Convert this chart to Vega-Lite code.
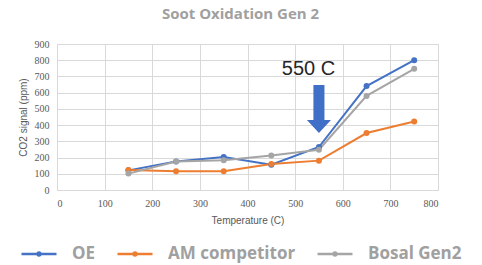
{
  "$schema": "https://vega.github.io/schema/vega-lite/v6.json",
  "autosize": "none",
  "width": 381,
  "height": 146,
  "padding": {"left": 57, "top": 44, "right": 44, "bottom": 75},
  "background": "white",
  "config": {
    "view": {"stroke": "#d9d9d9"},
    "font": "Liberation Sans"
  },
  "title": {
    "text": "Soot Oxidation Gen 2",
    "font": "Open Sans",
    "fontSize": 15,
    "fontWeight": "bold",
    "color": "#a0a0a0",
    "anchor": "middle",
    "dx": -7,
    "offset": 17
  },
  "datasets": {
    "series": [
      {"temp": 150, "signal": 121, "series": "OE"},
      {"temp": 250, "signal": 175, "series": "OE"},
      {"temp": 350, "signal": 204, "series": "OE"},
      {"temp": 450, "signal": 156, "series": "OE"},
      {"temp": 550, "signal": 265, "series": "OE"},
      {"temp": 650, "signal": 641, "series": "OE"},
      {"temp": 750, "signal": 800, "series": "OE"},
      {"temp": 150, "signal": 124, "series": "AM competitor"},
      {"temp": 250, "signal": 115, "series": "AM competitor"},
      {"temp": 350, "signal": 115, "series": "AM competitor"},
      {"temp": 450, "signal": 160, "series": "AM competitor"},
      {"temp": 550, "signal": 181, "series": "AM competitor"},
      {"temp": 650, "signal": 351, "series": "AM competitor"},
      {"temp": 750, "signal": 422, "series": "AM competitor"},
      {"temp": 150, "signal": 101, "series": "Bosal Gen2"},
      {"temp": 250, "signal": 175, "series": "Bosal Gen2"},
      {"temp": 350, "signal": 183, "series": "Bosal Gen2"},
      {"temp": 450, "signal": 212, "series": "Bosal Gen2"},
      {"temp": 550, "signal": 248, "series": "Bosal Gen2"},
      {"temp": 650, "signal": 580, "series": "Bosal Gen2"},
      {"temp": 750, "signal": 747, "series": "Bosal Gen2"}
    ],
    "note": [
      {"temp": 528, "signal": 709, "label": "550 C"}
    ],
    "arrow": [
      {"temp": 550, "signal": 500}
    ]
  },
  "encoding": {
    "x": {
      "field": "temp", "type": "quantitative",
      "scale": {"domain": [0, 800], "nice": false},
      "axis": {
        "title": "Temperature (C)",
        "titleFont": "Liberation Sans", "titleFontSize": 10, "titleFontWeight": "normal", "titleColor": "#595959",
        "titlePadding": 7,
        "values": [0, 100, 200, 300, 400, 500, 600, 700, 800],
        "labelOverlap": false,
        "labelFont": "Liberation Serif", "labelFontSize": 10, "labelColor": "#595959",
        "labelPadding": 8,
        "domain": false, "ticks": false, "gridColor": "#d9d9d9"
      }
    },
    "y": {
      "field": "signal", "type": "quantitative",
      "scale": {"domain": [0, 900], "nice": false},
      "axis": {
        "title": "CO2 signal (ppm)",
        "titleFont": "Liberation Sans", "titleFontSize": 10, "titleFontWeight": "normal", "titleColor": "#595959",
        "titlePadding": 6,
        "values": [0, 100, 200, 300, 400, 500, 600, 700, 800, 900],
        "labelOverlap": false,
        "labelFont": "Liberation Serif", "labelFontSize": 10, "labelColor": "#595959",
        "labelPadding": 8,
        "domain": false, "ticks": false, "gridColor": "#d9d9d9"
      }
    }
  },
  "layer": [
    {
      "data": {"name": "series"},
      "mark": {"type": "line", "strokeWidth": 2},
      "encoding": {
        "color": {
          "field": "series", "type": "nominal",
          "scale": {"domain": ["OE", "AM competitor", "Bosal Gen2"], "range": ["#4472C4", "#ED7D31", "#A5A5A5"]},
          "legend": {
            "title": null,
            "orient": "none",
            "legendX": -37,
            "legendY": 191,
            "direction": "horizontal",
            "columns": 3,
            "columnPadding": 16,
            "symbolType": "M-1,0L1,0M0.08,0A0.08,0.08 0 1,1 -0.08,0A0.08,0.08 0 1,1 0.08,0",
            "symbolSize": 1225,
            "symbolStrokeWidth": 2.5,
            "labelFont": "Open Sans",
            "labelFontSize": 17,
            "labelFontWeight": "bold",
            "labelColor": "#a0a0a0",
            "labelOffset": 14,
            "labelLimit": 300
          }
        }
      }
    },
    {
      "data": {"name": "series"},
      "mark": {"type": "point", "filled": true, "size": 36, "opacity": 1},
      "encoding": {
        "color": {"field": "series", "type": "nominal", "legend": null}
      }
    },
    {
      "data": {"name": "arrow"},
      "mark": {
        "type": "point", "filled": true, "opacity": 1, "color": "#3F6FC6",
        "shape": "M-0.23,-1L0.23,-1L0.23,0.46L0.5,0.46L0,1L-0.5,0.46L-0.23,0.46Z",
        "size": 2304
      }
    },
    {
      "data": {"name": "note"},
      "mark": {"type": "text", "font": "Liberation Sans", "fontSize": 20, "color": "#262626", "align": "center", "baseline": "alphabetic"},
      "encoding": {
        "text": {"field": "label"}
      }
    }
  ]
}
